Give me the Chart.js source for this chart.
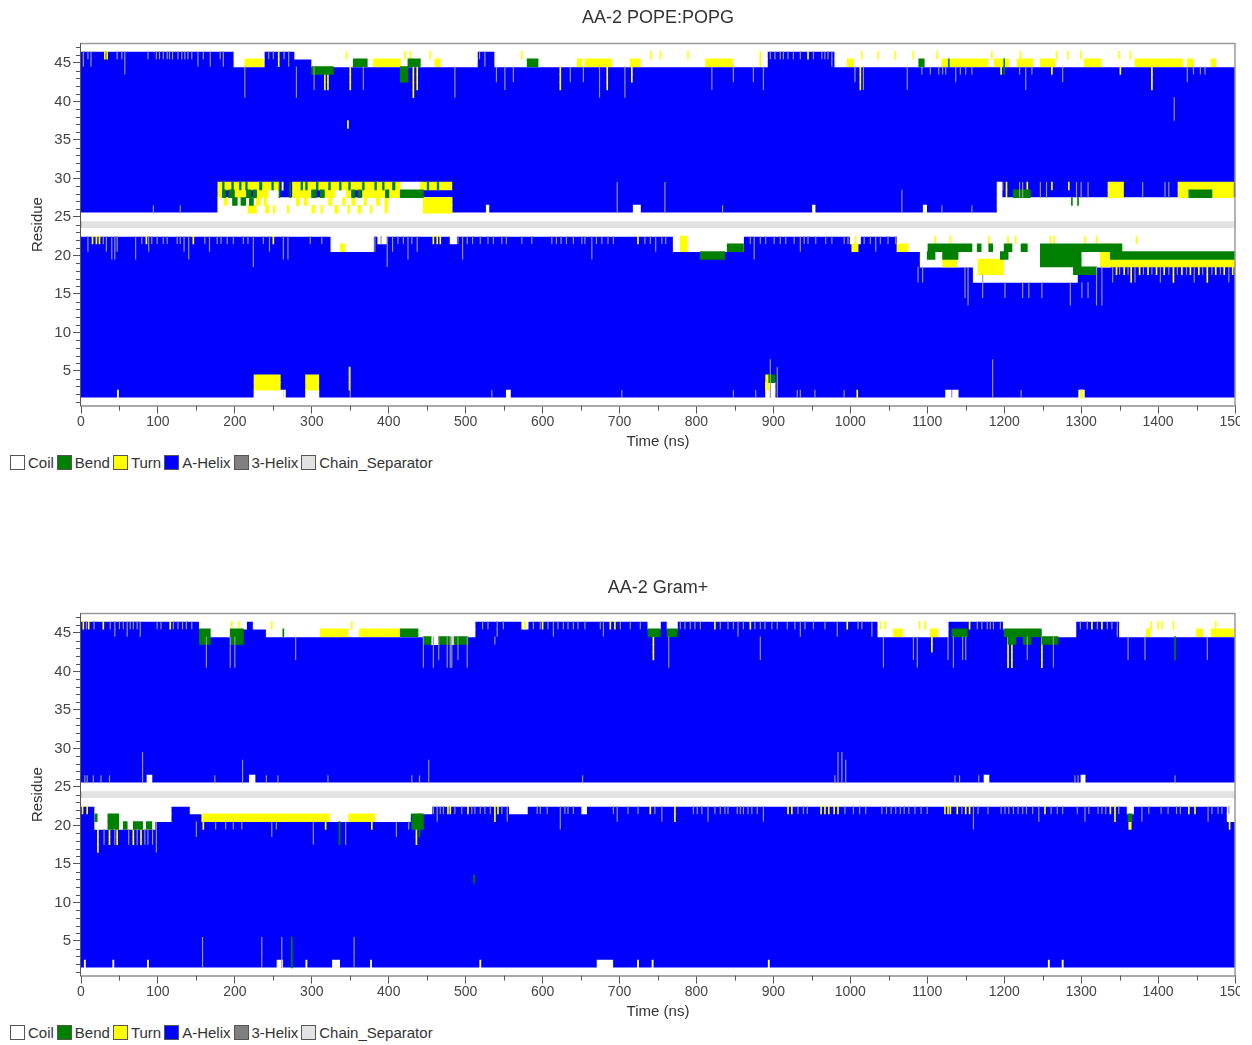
<!DOCTYPE html>
<html><head><meta charset="utf-8">
<script src="https://cdn.jsdelivr.net/npm/chart.js@4.4.1/dist/chart.umd.min.js"></script>
<style>
html,body{margin:0;padding:0;background:#fff;}
body{width:1252px;height:1045px;overflow:hidden;position:relative;font-family:"Liberation Sans",Arial,sans-serif;}
.panel{position:absolute;left:0;width:1240px;height:480px;overflow:hidden;}
.panel canvas{position:absolute;left:0;top:0;}
.legend{position:absolute;left:10px;top:455px;display:flex;align-items:center;font-size:15px;color:#333;white-space:nowrap;line-height:15px;}
.legend .item{display:flex;align-items:center;margin-right:3px;}
.legend .box{width:13px;height:13px;border:1px solid #555;margin-right:3px;}
</style></head>
<body>
<div class="panel" style="top:0"><canvas id="c1" width="1262" height="452"></canvas><div class="legend" id="l1"></div></div>
<div class="panel" style="top:570px"><canvas id="c2" width="1262" height="452"></canvas><div class="legend" id="l2"></div></div>
<script>
// ---------- shared ----------
const categories = ['Coil','Bend','Turn','A-Helix','3-Helix','Chain_Separator'];
const colors = ['#ffffff','#008000','#ffff00','#0000ff','#808080','#e2e2e2'];
const timeRange = [0, 1500];
const timeTicks = [0,100,200,300,400,500,600,700,800,900,1000,1100,1200,1300,1400,1500];
const residueRange = [0.5, 47.5];
const residueTicks = [5,10,15,20,25,30,35,40,45];
const coilRows = [1, 23, 25, 47];
const separatorRows = [24];
const helixBlocks = [[2, 22], [26, 46]];

// ---------- AA-2 POPE:POPG ----------  rects: [t0, t1, resLow, resHigh]; ticks: [t, resLow, resHigh]
const popgCoil = [
 [199,238,45,46],[278,515,46,46],[300,515,45,45],[538,892,45,46],[980,1500,45,46],
 [178,482,26,27],[415,441,29,29],[243,257,28,28],[330,345,28,28],[1191,1500,26,27],[1191,1197,28,29],
 [325,380,21,22],[386,397,22,22],[480,488,22,22],[770,861,21,22],[1000,1013,22,22],
 [1061,1500,21,22],[1091,1338,19,20],[1160,1295,17,18],
 [225,263,2,2],[292,309,2,2],[553,558,2,2],[890,902,2,3],[1124,1131,2,2],[1133,1140,2,2],[1297,1304,2,2],
 [718,727,26,26],[951,954,26,26],[1095,1099,26,26],[527,530,26,26]
];
const popgBend = [
 [300,328,44,44],[354,372,45,45],[425,441,45,45],[415,425,43,44],[580,594,45,45],[1089,1096,45,45],
 [184,188,28,28],[192,199,28,28],[215,221,28,28],[224,228,28,28],[300,306,28,28],[311,316,28,28],[352,356,28,28],[360,364,28,28],[396,400,28,28],[415,445,28,28],
 [197,203,27,27],[208,214,27,27],[219,224,27,27],
 [184,186,29,29],[196,198,29,29],[206,208,29,29],[214,216,29,29],[232,235,29,29],[248,250,29,29],[286,288,29,29],[292,294,29,29],[306,308,29,29],[322,324,29,29],[336,338,29,29],[348,350,29,29],[366,368,29,29],[382,384,29,29],[392,394,29,29],[405,408,29,29],[450,452,29,29],[463,465,29,29],
 [1212,1234,28,28],[1440,1470,28,28],
 [805,837,20,20],[840,861,21,21],
 [1101,1158,21,21],[1247,1353,21,21],[1247,1300,19,20],[1338,1500,20,20],
 [1100,1110,20,20],[1120,1140,20,20],[1165,1170,21,21],[1180,1185,21,21],[1200,1210,21,21],[1222,1230,21,21],[1195,1205,20,20],
 [1290,1320,18,18],[894,902,4,4]
];
const popgTurn = [
 [213,237,45,45],[380,408,45,45],[405,415,45,45],[460,467,45,45],
 [645,651,45,45],[655,690,45,45],[714,727,45,45],[812,847,45,45],
 [996,1004,45,45],[1119,1179,45,45],[1187,1206,45,45],[1217,1237,45,45],[1247,1266,45,45],[1304,1326,45,45],[1370,1432,45,45],[1438,1446,45,45],[1469,1475,45,45],
 [178,257,29,29],[275,415,29,29],[441,482,29,29],[178,183,28,28],[200,214,28,28],[229,243,28,28],[275,299,28,28],[317,330,28,28],[345,351,28,28],[366,395,28,28],[401,415,28,28],
 [186,190,27,27],[228,233,27,27],[238,241,27,27],[280,284,27,27],[290,294,27,27],[322,326,27,27],[340,343,27,27],[352,356,27,27],[368,371,27,27],[384,388,27,27],[395,399,27,27],[445,482,26,27],
 [217,228,26,26],[240,244,26,26],[300,304,26,26],[330,334,26,26],[360,364,26,26],[395,398,26,26],[250,252,26,26],[268,270,26,26],[312,314,26,26],[347,349,26,26],[376,378,26,26],
 [1335,1355,28,29],[1426,1498,28,29],
 [337,343,21,21],[779,788,21,22],[1002,1010,21,21],[1061,1075,21,21],
 [1120,1138,19,19],[1166,1199,18,19],[1325,1338,19,21],[1338,1500,19,19],
 [225,259,3,4],[292,309,3,4],[890,894,3,4],[1299,1302,2,2]
];
const popgHelix3Ticks = [
 [3,45,46],[9,46,46],[13,45,46],[47,46,46],[53,46,46],[57,44,46],[87,46,46],[98,46,46],[102,46,46],[107,46,46],[112,46,46],[115,46,46],[119,46,46],[126,46,46],[131,46,46],[135,46,46],[139,46,46],[144,46,46],[152,45,46],[159,46,46],[168,45,46],[181,46,46],[185,45,46],
 [244,46,46],[250,46,46],[264,46,46],[270,45,46],[518,46,46],[525,45,46],
 [896,46,46],[902,46,46],[909,46,46],[913,46,46],[919,46,46],[926,46,46],[935,46,46],[952,46,46],[963,46,46],[967,46,46],[971,46,46],[976,45,46],
 [213,41,44],[280,41,44],[303,42,44],[367,42,44],[486,41,44],[540,43,44],[551,42,44],[562,43,44],[636,43,44],[653,43,44],[674,41,44],[707,41,44],[820,42,44],[848,43,44],[874,43,44],[887,42,44],
 [1006,43,44],[1017,42,44],[1074,42,44],[1093,44,44],[1104,44,44],[1115,44,44],[1120,44,44],[1124,44,44],[1137,43,44],[1143,44,44],[1150,44,44],[1158,44,44],[1220,44,44],[1228,42,44],[1236,44,44],[1276,43,44],[1438,43,44],[1446,44,44],[1455,44,44],[1461,44,44],
 [1421,38,40],
 [9,21,22],[29,22,22],[33,21,22],[40,20,22],[44,20,22],[47,21,22],[71,20,22],[79,22,22],[88,21,22],[92,22,22],[99,22,22],[107,22,22],[112,22,22],[125,22,22],[129,22,22],[134,21,22],[140,20,22],[161,22,22],[167,21,22],[177,22,22],[182,22,22],[190,22,22],[198,22,22],[211,22,22],[217,22,22],[224,19,22],[237,22,22],[245,21,22],[263,20,22],[269,20,22],[298,22,22],[313,22,22],[382,21,22],[390,22,22],[398,19,22],[405,21,22],[412,22,22],[419,22,22],
 [425,20,22],[430,22,22],[437,21,22],[490,22,22],[496,20,22],[502,22,22],[509,22,22],[519,22,22],[529,22,22],[536,22,22],[547,22,22],[553,22,22],[573,22,22],[586,22,22],[612,22,22],[618,22,22],[624,22,22],[631,22,22],[640,22,22],[651,22,22],[655,22,22],[664,20,22],[670,22,22],[677,22,22],[685,22,22],[692,22,22],[733,22,22],[740,22,22],[747,21,22],[755,22,22],[760,22,22],
 [870,22,22],[875,20,22],[883,22,22],[890,22,22],[901,22,22],[909,22,22],[916,22,22],[927,22,22],[935,21,22],[940,22,22],[945,22,22],[955,22,22],[968,22,22],[976,22,22],[992,22,22],[997,22,22],[1018,22,22],[1026,22,22],[1033,21,22],[1039,22,22],[1049,22,22],[1059,22,22],
 [1341,17,18],[1350,18,18],[1361,18,18],[1370,17,18],[1381,18,18],[1392,18,18],[1403,17,18],[1414,18,18],[1425,18,18],[1437,18,18],[1447,17,18],[1458,18,18],[1470,18,18],[1481,18,18],[1492,17,18],
 [1088,17,18],[1094,17,18],[1149,15,18],[1153,14,18],[1172,15,17],[1201,15,16],[1224,15,16],[1232,15,16],[1249,15,16],[1286,14,16],[1301,15,16],[1309,15,16],[1320,14,18],[1327,14,18],
 [534,2,2],[703,2,2],[848,2,2],[877,2,2],[896,2,6],[905,2,5],[931,2,2],[935,2,2],[954,2,2],[992,2,2],[1185,2,6],[1222,2,2],[350,2,5],
 [94,26,26],[129,26,26],[697,26,29],[759,26,29],[834,26,26],[1067,26,28],[1119,26,26],[1158,26,26],
 [1198,29,29],[1220,28,29],[1224,28,29],[1247,28,29],[1255,28,29],[1294,28,29],[1300,28,29],[1309,28,29],[1380,28,29],[1409,28,29],[1414,28,29]
];
const popgTurnTicks = [
 [31,46,46],[34,46,46],[257,45,46],[945,46,46],
 [317,42,44],[321,42,44],[350,42,44],[623,42,44],[684,42,44],[716,43,44],[1013,42,44],[1196,44,44],[1262,44,44],[1351,44,44],[1392,42,44],[432,41,44],[437,42,44],
 [345,46,46],[421,46,46],[428,46,46],[454,46,46],[573,46,46],[741,46,46],[753,46,46],[789,46,46],[883,45,46],[1015,46,46],[1036,46,46],[1058,46,46],[1082,46,46],[1113,46,46],[1184,46,46],[1221,46,46],[1268,46,46],[1283,46,46],[1300,46,46],[1349,46,46],[1364,46,46],
 [347,37,37],
 [15,22,22],[20,22,22],[24,22,22],[85,22,22],[146,22,22],[250,22,22],[458,22,22],[463,22,22],[467,22,22],[724,22,22],[1007,21,22],
 [349,3,5],[1009,2,2],
 [1110,22,22],[1130,22,22],[1180,22,22],[1205,22,22],[1215,22,22],[1260,22,22],[1265,22,22],[1305,22,22],[1320,22,22],[1372,22,22],
 [1346,18,18],[1356,18,18],[1365,17,18],[1376,18,18],[1387,18,18],[1398,18,18],[1408,18,18],[1420,17,18],[1431,18,18],[1442,18,18],[1453,18,18],[1464,17,18],[1475,18,18],[1486,18,18],[1497,18,18],
 [1203,28,29],[1230,29,29],[1262,29,29],[1284,29,29]
];
const popgBendTicks = [[1128,45,45],[1200,44,45],[1288,27,27],[1296,27,27],[258,28,29],[272,28,29]];
const popgCoilTicks = [[48,2,2],[265,2,2],[262,29,29],[420,28,28],[436,29,29]];

// ---------- AA-2 Gram+ ----------
const gramCoil = [
 [154,215,46,46],[168,194,45,45],[224,512,46,46],[241,415,45,45],[415,512,45,45],[455,465,44,44],[480,485,44,44],
 [573,581,46,46],[737,753,46,46],[762,775,46,46],
 [1036,1127,45,46],[1199,1249,46,46],[1249,1293,45,46],[1350,1500,45,46],
 [18,96,20,22],[96,117,21,22],[142,157,22,22],[157,456,22,22],[323,348,21,21],[382,428,21,21],
 [557,580,22,22],[651,657,22,22],[1360,1368,22,22],[1490,1500,21,22],
 [86,92,26,26],[219,226,26,26],[1174,1180,26,26],[1300,1305,26,26],
 [255,262,2,2],[327,336,2,2],[671,691,2,2]
];
const gramBend = [
 [154,168,44,45],[194,211,44,45],[415,438,45,45],[445,455,44,44],[465,480,44,44],[485,503,44,44],
 [737,753,45,45],[762,775,45,45],[1132,1152,45,45],[1200,1248,45,45],[1205,1215,44,44],[1225,1235,44,44],[1249,1270,44,44],
 [18,21,21,21],[35,49,20,21],[55,60,20,20],[68,80,20,20],[85,92,20,20],[430,445,20,21],[1361,1366,21,21]
];
const gramTurn = [
 [311,347,45,45],[362,417,45,45],[1056,1068,45,45],[1104,1114,45,45],[1385,1390,45,45],[1450,1458,45,45],[1469,1498,45,45],
 [157,323,21,21],[348,382,21,21],[1362,1365,20,20]
];
const gramHelix3Ticks = [
 [7,46,46],[17,46,46],[38,46,46],[44,45,46],[50,46,46],[55,46,46],[60,45,46],[64,46,46],[68,46,46],[73,46,46],[77,45,46],[99,46,46],[104,46,46],[120,46,46],[126,46,46],[132,46,46],[137,46,46],[144,46,46],
 [522,46,46],[529,46,46],[541,45,46],[549,46,46],[588,46,46],[597,46,46],[607,46,46],[614,45,46],[620,46,46],[627,46,46],[633,46,46],[640,46,46],[646,46,46],[655,46,46],[675,46,46],[679,45,46],[701,46,46],[714,46,46],[727,46,46],
 [779,46,46],[785,46,46],[792,46,46],[798,46,46],[805,46,46],[831,46,46],[841,46,46],[848,46,46],[854,45,46],[861,46,46],[876,46,46],[883,46,46],[889,46,46],[898,46,46],[905,46,46],[918,46,46],[928,46,46],[935,45,46],[941,46,46],[952,46,46],
 [967,46,46],[983,45,46],[1010,46,46],[1015,46,46],[1028,45,46],[1165,46,46],[1171,46,46],[1178,46,46],[1182,46,46],[1186,46,46],[1195,46,46],
 [1299,46,46],[1308,46,46],[1321,46,46],[1334,46,46],[1340,46,46],[1347,45,46],
 [163,41,44],[194,41,44],[200,41,44],[279,42,44],[445,41,44],[458,41,44],[465,42,44],[476,41,44],[480,41,44],[482,41,44],[490,42,44],[502,41,44],[538,44,44],[764,41,44],[883,42,44],[1043,41,44],[1082,42,44],[1087,41,44],[1127,42,44],[1134,41,44],[1146,42,44],[1150,42,44],[1230,42,44],[1264,41,44],[1361,42,44],[1383,42,44],[1464,42,44],
 [80,26,29],[210,26,28],[452,26,28],[984,26,29],[989,26,29],[994,26,28],
 [5,26,26],[8,26,26],[16,26,26],[26,26,26],[37,26,26],[174,26,26],[241,26,26],[256,26,26],[321,26,26],[430,26,26],[440,26,26],[652,26,26],[980,26,26],[1136,26,26],[1142,26,26],[1167,26,26],[1292,26,26],[1296,26,26],[1422,26,26],
 [158,2,5],[235,2,5],[261,2,5],[355,2,5],
 [458,22,22],[463,21,22],[467,22,22],[471,22,22],[486,22,22],[495,22,22],[508,22,22],[512,22,22],[519,22,22],[525,22,22],[532,22,22],[547,22,22],[554,21,22],[593,22,22],[597,22,22],[606,22,22],[623,20,22],[629,22,22],[633,22,22],[640,22,22],
 [692,22,22],[697,21,22],[711,22,22],[724,22,22],[746,22,22],[755,21,22],[796,22,22],[801,22,22],[807,22,22],[815,21,22],[824,22,22],[831,22,22],[837,22,22],[841,22,22],[853,22,22],[857,22,22],[861,22,22],[867,22,22],[872,22,22],[879,22,22],[887,21,22],
 [932,22,22],[939,22,22],[944,22,22],[993,22,22],[1004,22,22],[1012,22,22],[1020,22,22],[1041,22,22],[1047,22,22],[1053,22,22],[1059,22,22],[1065,22,22],[1070,22,22],[1076,22,22],[1084,22,22],[1092,22,22],[1100,22,22],
 [1145,22,22],[1160,20,22],[1166,22,22],[1179,22,22],[1196,22,22],[1201,22,22],[1206,22,22],[1212,22,22],[1218,22,22],[1224,22,22],[1229,22,22],[1237,22,22],[1245,21,22],[1261,22,22],[1269,22,22],[1276,22,22],[1295,22,22],[1305,21,22],[1310,22,22],[1322,22,22],[1327,22,22],[1332,22,22],[1349,22,22],
 [1379,21,22],[1388,22,22],[1404,22,22],[1413,22,22],[1424,22,22],[1429,22,22],[1465,21,22],[1470,22,22],[1478,22,22],[1483,22,22],[1492,22,22],
 [150,19,20],[175,20,20],[188,20,20],[198,20,20],[209,20,20],[248,19,20],[254,20,20],[302,18,20],[344,18,20],[410,19,20],[426,20,20],
 [30,18,19],[44,18,19],[62,18,19],[73,18,19],[83,18,19],[87,18,19],[93,18,19],[98,17,20]
];
const gramTurnTicks = [
 [3,46,46],[10,46,46],[29,46,46],[116,46,46],[600,46,46],[688,46,46],[694,46,46],[824,46,46],[870,46,46],[996,46,46],[1039,46,46],[1314,46,46],[1327,46,46],
 [577,46,46],[1045,46,46],[1090,46,46],[1097,46,46],[1155,46,46],[1391,46,46],[1400,46,46],[1405,46,46],[1420,46,46],[1475,46,46],[196,46,46],[205,46,46],[248,46,46],[352,46,46],
 [744,42,44],[1106,43,44],[1205,41,44],[1210,41,44],[1249,41,44],
 [2,22,22],[8,22,22],[477,22,22],[480,22,22],[503,22,22],[538,21,22],[542,22,22],[740,22,22],[772,21,22],[919,22,22],[924,22,22],[962,22,22],[967,22,22],[972,22,22],[979,22,22],[984,22,22],
 [1123,22,22],[1127,22,22],[1130,22,22],[1139,22,22],[1150,22,22],[1155,22,22],[1253,22,22],[1338,22,22],[1344,21,22],[1440,22,22],[1448,22,22],[1493,20,20],
 [22,17,19],[37,18,19],[47,18,19],[68,18,19],[78,18,19],[159,20,20],[318,20,20],[378,20,20],[436,18,20]
];
const gramBendTicks = [[274,2,5],[1422,42,44],[511,13,13],[440,19,21],[336,18,20],[263,45,45]];
const gramCoilTicks = [[5,2,2],[42,2,2],[87,2,2],[293,2,2],[377,2,2],[519,2,2],[724,2,2],[743,2,2],[894,2,2],[1258,2,2],[1276,2,2]];

// ---------- build ----------
const TICK_W = 1.1;
function toBars(rects, ticks) {
  const all = (rects || []).concat((ticks || []).map(([t, a, b]) => [t - TICK_W / 2, t + TICK_W / 2, a, b]));
  const out = [];
  for (const [t0, t1, a, b] of all) for (let r = a; r <= b; r++) out.push({x: [t0, t1], y: r});
  return out;
}
const fullRows = rows => rows.map(r => [timeRange[0], timeRange[1], r, r]);

const FONT = "'Liberation Sans', Arial, Helvetica, sans-serif";
Chart.defaults.font.family = FONT;

const framePlugin = {
  id: 'frame',
  afterDraw(chart) {
    const {ctx, chartArea: a, scales: {x, y}} = chart;
    ctx.save();
    ctx.strokeStyle = '#555'; ctx.lineWidth = 1;
    ctx.beginPath();
    for (let r = 1; r <= 47; r++) {
      if (r % 5 === 0) continue;
      const py = Math.round(y.getPixelForValue(r)) + 0.5;
      ctx.moveTo(a.left - 5, py); ctx.lineTo(a.left, py);
    }
    for (let t = 50; t < timeRange[1]; t += 100) {
      const px = Math.round(x.getPixelForValue(t)) + 0.5;
      ctx.moveTo(px, a.bottom); ctx.lineTo(px, a.bottom + 5);
    }
    ctx.stroke();
    ctx.strokeStyle = '#999'; ctx.lineWidth = 1.5;
    ctx.beginPath();
    ctx.moveTo(a.left, a.top); ctx.lineTo(a.right, a.top); ctx.lineTo(a.right, a.bottom);
    ctx.stroke();
    ctx.restore();
  }
};

function makeChart(canvasId, legendId, title, d) {
  const ds = (i, data, order, inflate, color) => ({label: categories[i], data, backgroundColor: color || colors[i], order,
    borderWidth: 0, barPercentage: 1, categoryPercentage: 1, grouped: false, inflateAmount: inflate});
  new Chart(document.getElementById(canvasId), {
    type: 'bar',
    data: {datasets: [
      ds(0, toBars(fullRows(coilRows).concat(d.coil), d.coilTicks), 4, 0.5),
      ds(1, toBars(d.bend, d.bendTicks), 2, 0.4),
      ds(2, toBars(d.turn, d.turnTicks), 3, 0.4),
      ds(3, toBars(helixBlocks.map(([a, b]) => [timeRange[0], timeRange[1], a, b])), 5, 0.6),
      ds(4, toBars([], d.helix3Ticks), 1, 0.15, '#9a9a9a'),
      ds(5, toBars(fullRows(separatorRows)), 5, 0)
    ]},
    options: {
      indexAxis: 'y', responsive: false, devicePixelRatio: 1, animation: false, events: [],
      layout: {padding: {left: 0, right: 27, top: 0, bottom: 0}},
      scales: {
        x: {type: 'linear', min: timeRange[0], max: timeRange[1], offset: false,
            afterBuildTicks: s => { s.ticks = timeTicks.map(v => ({value: v})); },
            afterFit: s => { s.height = 46.4; },
            grid: {drawOnChartArea: false, tickLength: 8, tickColor: '#555', offset: false},
            border: {color: '#555', width: 1.5},
            ticks: {autoSkip: false, maxRotation: 0, padding: 0, color: '#444', font: {size: 14}, callback: v => String(v)},
            title: {display: true, text: 'Time (ns)', color: '#333', font: {size: 15}, padding: {top: 0, bottom: 1}}},
        y: {type: 'linear', min: residueRange[0], max: residueRange[1], offset: false,
            afterBuildTicks: s => { s.ticks = residueTicks.map(v => ({value: v})); },
            afterFit: s => { s.width = 81; },
            grid: {drawOnChartArea: false, tickLength: 8, tickColor: '#555', offset: false},
            border: {color: '#555', width: 1.5},
            ticks: {autoSkip: false, padding: 2, color: '#444', font: {size: 15}, callback: v => String(v)},
            title: {display: true, text: 'Residue', color: '#333', font: {size: 15}, padding: {top: 29, bottom: 0}}}
      },
      plugins: {
        legend: {display: false}, tooltip: {enabled: false},
        title: {display: true, text: title, fullSize: false, color: '#333',
                font: {size: 18, weight: 'normal'}, padding: {top: 7, bottom: 15}}
      }
    },
    plugins: [framePlugin]
  });
  const lg = document.getElementById(legendId);
  categories.forEach((c, i) => {
    const it = document.createElement('span'); it.className = 'item';
    const b = document.createElement('span'); b.className = 'box'; b.style.background = colors[i];
    const t = document.createElement('span'); t.textContent = c;
    it.appendChild(b); it.appendChild(t); lg.appendChild(it);
  });
}

makeChart('c1', 'l1', 'AA-2 POPE:POPG', {coil: popgCoil, bend: popgBend, turn: popgTurn,
  helix3Ticks: popgHelix3Ticks, turnTicks: popgTurnTicks, bendTicks: popgBendTicks, coilTicks: popgCoilTicks});
makeChart('c2', 'l2', 'AA-2 Gram+', {coil: gramCoil, bend: gramBend, turn: gramTurn,
  helix3Ticks: gramHelix3Ticks, turnTicks: gramTurnTicks, bendTicks: gramBendTicks, coilTicks: gramCoilTicks});
</script>
</body></html>
